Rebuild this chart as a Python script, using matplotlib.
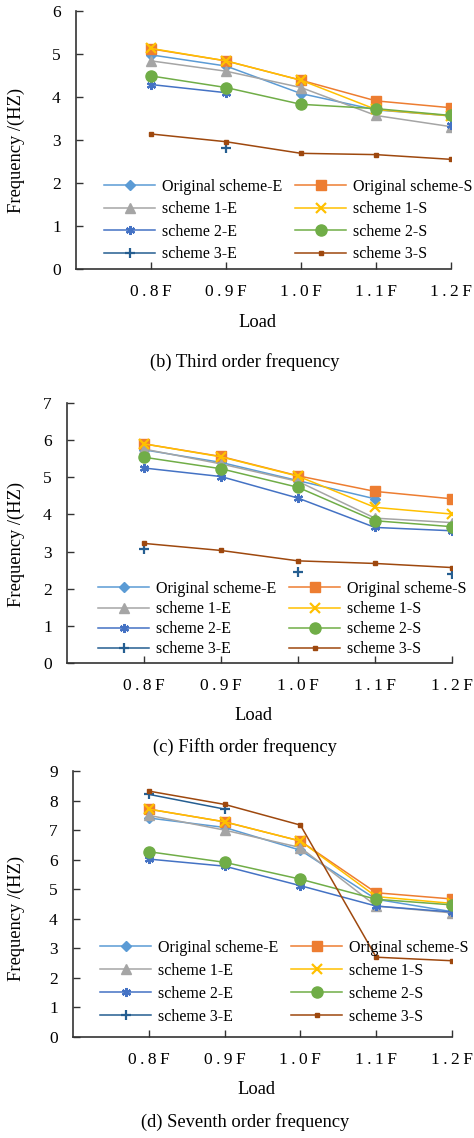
import numpy as np
import matplotlib
matplotlib.use("Agg")
import matplotlib.pyplot as plt

nan = np.nan

# Categorias del eje x
loads = ["0.8F", "0.9F", "1.0F", "1.1F", "1.2F"]
series_names = ["Original scheme-E", "Original scheme-S", "scheme 1-E", "scheme 1-S",
                "scheme 2-E", "scheme 2-S", "scheme 3-E", "scheme 3-S"]

# (b) Tercera frecuencia
third_orig_e = [4.98, 4.72, 4.08, 3.70, 3.56]
third_orig_s = [5.12, 4.84, 4.39, 3.91, 3.75]
third_s1_e = [4.84, 4.60, 4.22, 3.57, 3.31]
third_s1_s = [5.13, 4.84, 4.39, 3.71, 3.56]
third_s2_e = [4.29, 4.10, nan, nan, 3.34]
third_s2_s = [4.49, 4.22, 3.83, 3.73, 3.57]
third_s3_e = [nan, 2.82, nan, nan, nan]
third_s3_s = [3.14, 2.96, 2.69, 2.66, 2.55]

# (c) Quinta frecuencia
fifth_orig_e = [5.74, 5.40, 4.91, 4.42, nan]
fifth_orig_s = [5.90, 5.56, 5.04, 4.62, 4.42]
fifth_s1_e = [5.76, 5.36, 4.89, 3.90, 3.78]
fifth_s1_s = [5.90, 5.55, 5.03, 4.19, 4.01]
fifth_s2_e = [5.25, 5.02, 4.44, 3.65, 3.56]
fifth_s2_s = [5.54, 5.23, 4.73, 3.83, 3.67]
fifth_s3_e = [3.07, nan, 2.46, nan, 2.39]
fifth_s3_s = [3.22, 3.03, 2.75, 2.68, 2.57]

# (d) Septima frecuencia
seventh_orig_e = [7.41, 7.09, 6.32, 4.66, 4.24]
seventh_orig_s = [7.71, 7.28, 6.63, 4.88, 4.67]
seventh_s1_e = [7.50, 7.00, 6.41, 4.43, 4.20]
seventh_s1_s = [7.71, 7.28, 6.63, 4.75, 4.52]
seventh_s2_e = [6.02, 5.78, 5.12, 4.43, 4.23]
seventh_s2_s = [6.27, 5.91, 5.34, 4.66, 4.47]
seventh_s3_e = [8.21, 7.71, nan, nan, nan]
seventh_s3_s = [8.32, 7.87, 7.17, 2.70, 2.58]

panel_titles = ["(b) Third order frequency", "(c) Fifth order frequency",
                "(d) Seventh order frequency"]
y_max = [6, 7, 9]

colors = ["#5B9BD5", "#ED7D31", "#A5A5A5", "#FFC000",
          "#4472C4", "#70AD47", "#255E91", "#9E480E"]
markers = ["D", "s", "^", "x", (6, 2, 0), "o", "+", "s"]
msizes = [5.5, 7.5, 7, 7, 6.5, 8, 6.5, 3.2]

plt.rcParams["font.family"] = ["Liberation Serif", "DejaVu Serif"]

W, H = 474, 1138
fig = plt.figure(figsize=(W / 100, H / 100), dpi=100)


def px_axes(left, right, top, bottom):
    return fig.add_axes([left / W, 1 - bottom / H, (right - left) / W, (bottom - top) / H])


# posiciones en pixeles de cada panel
layout = [
    dict(box=(76, 451, 11, 269), leg=(104, 179), spacing=0.40, load_y=322, title_y=362, ylab_y=150),
    dict(box=(67, 452, 403, 663), leg=(98, 581), spacing=0.26, load_y=715, title_y=747, ylab_y=544),
    dict(box=(73, 452, 771, 1037), leg=(100, 940), spacing=0.44, load_y=1089, title_y=1122, ylab_y=918),
]

panels = [
    [third_orig_e, third_orig_s, third_s1_e, third_s1_s, third_s2_e, third_s2_s, third_s3_e, third_s3_s],
    [fifth_orig_e, fifth_orig_s, fifth_s1_e, fifth_s1_s, fifth_s2_e, fifth_s2_s, fifth_s3_e, fifth_s3_s],
    [seventh_orig_e, seventh_orig_s, seventh_s1_e, seventh_s1_s, seventh_s2_e, seventh_s2_s, seventh_s3_e, seventh_s3_s],
]

x = np.arange(1, len(loads) + 1)
tick_labels = ["\u2009".join(s) for s in loads]
# la leyenda se llena por columnas: reordenar para que quede por filas
leg_order = [0, 2, 4, 6, 1, 3, 5, 7]

for k, data in enumerate(panels):
    lay = layout[k]
    l, r, t, b = lay["box"]
    ax = px_axes(l, r, t, b)

    handles = []
    for i, vals in enumerate(data):
        mew = 1.6 if markers[i] in ("x", "+", (6, 2, 0)) else 1.0
        h, = ax.plot(x, vals, color=colors[i], lw=1.1, marker=markers[i], ms=msizes[i],
                     mec=colors[i], mfc=colors[i], mew=mew, label=series_names[i])
        handles.append(h)

    ax.set_xlim(0, 5)
    ax.set_ylim(0, y_max[k])
    ax.set_xticks(x)
    ax.set_xticklabels(tick_labels)
    ax.set_yticks(range(0, y_max[k] + 1))
    ax.tick_params(axis="both", direction="in", length=5, width=1, color="#333333",
                   labelsize=12.5)
    ax.tick_params(axis="x", pad=11)
    ax.tick_params(axis="y", pad=11)
    for side in ("top", "right"):
        ax.spines[side].set_visible(False)
    for side in ("left", "bottom"):
        ax.spines[side].set_color("#333333")
        ax.spines[side].set_linewidth(1.2)

    ax.set_ylabel("Frequency /(HZ)", fontsize=13.3, va="center")
    ax.yaxis.set_label_coords(16 / W, 1 - lay["ylab_y"] / H, transform=fig.transFigure)

    fig.text((l + r) / 2 / W - 6 / W, 1 - lay["load_y"] / H, "Load", fontsize=13.3,
             ha="center", va="center")
    fig.text(245 / W, 1 - lay["title_y"] / H, panel_titles[k], fontsize=13.3,
             ha="center", va="center")

    lx, ly = lay["leg"]
    ax.legend([handles[j] for j in leg_order], [series_names[j] for j in leg_order],
              loc="upper left", bbox_to_anchor=(lx / W, 1 - ly / H),
              bbox_transform=fig.transFigure, ncol=2, frameon=False,
              fontsize=11.5, handlelength=3.2, handletextpad=0.4,
              columnspacing=0.85, labelspacing=lay["spacing"], borderpad=0,
              borderaxespad=0)

fig.savefig("out.png", dpi=100)
